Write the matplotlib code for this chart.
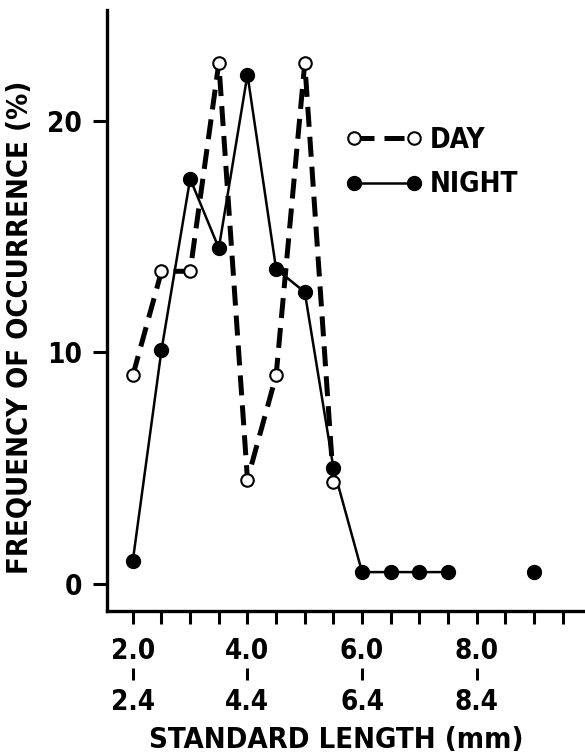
import matplotlib
matplotlib.use("Agg")
import matplotlib.pyplot as plt
import matplotlib.transforms as mtransforms
import numpy as np

plt.rcParams['font.family'] = ['DejaVu Sans']
plt.rcParams['font.weight'] = 'bold'
plt.rcParams['font.stretch'] = 'condensed'
plt.rcParams['axes.labelweight'] = 'bold'

# size classes (mm, lower scale) and percent occurrence
day_x = [2.0, 2.5, 3.0, 3.5, 4.0, 4.5, 5.0, 5.5]
day_y = [9.0, 13.5, 13.5, 22.5, 4.5, 9.0, 22.5, 4.4]

night_x = [2.0, 2.5, 3.0, 3.5, 4.0, 4.5, 5.0, 5.5, 6.0, 6.5, 7.0, 7.5, 8.0, 8.5, 9.0]
night_y = [1.0, 10.1, 17.5, 14.5, 22.0, 13.6, 12.6, 5.0, 0.5, 0.5, 0.5, 0.5, np.nan, np.nan, 0.5]

upper_ticks = [2.0, 4.0, 6.0, 8.0]
upper_labels = ["2.0", "4.0", "6.0", "8.0"]
lower_labels = ["2.4", "4.4", "6.4", "8.4"]
y_ticks = [0, 10, 20]
y_labels = ["0", "10", "20"]

fig = plt.figure(figsize=(5.85, 7.54), dpi=100)
ax = fig.add_axes([0.183, 0.19, 0.817, 0.797])

ax.plot(night_x, night_y, color="black", lw=1.8, marker="o", ms=10,
        mfc="black", mec="black", label="NIGHT", zorder=2)
ax.plot(day_x, day_y, color="black", lw=3.6, dashes=(4, 2.0), marker="o", ms=9,
        mfc="white", mec="black", mew=1.5, label="DAY", zorder=3)

ax.set_xlim(1.55, 9.89)
ax.set_ylim(-1.17, 24.8)

for side in ["top", "right"]:
    ax.spines[side].set_visible(False)
for side in ["left", "bottom"]:
    ax.spines[side].set_linewidth(2.4)

ax.set_yticks(y_ticks)
ax.set_yticklabels(y_labels, fontsize=20)
ax.tick_params(axis="y", direction="out", length=10, width=2.2, pad=8)

ax.set_xticks(upper_ticks)
ax.set_xticklabels([u + "\n" + l for u, l in zip(upper_labels, lower_labels)],
                   fontsize=20, linespacing=2.05)
ax.set_xticks(np.arange(2.0, 9.6, 0.5), minor=True)
ax.tick_params(axis="x", which="both", direction="out", length=9, width=2.2, pad=10)

# small connector marks between the two scales
trans = mtransforms.blended_transform_factory(ax.transData, ax.transAxes)
ax.vlines(upper_ticks, -0.095, -0.115, transform=trans, color="black",
          lw=2.2, clip_on=False)

ax.set_xlabel("STANDARD LENGTH (mm)", fontsize=21, fontweight="bold")
ax.xaxis.set_label_coords(0.48, -0.192)
ax.set_ylabel("FREQUENCY OF OCCURRENCE (%)", fontsize=21, fontweight="bold")
ax.yaxis.set_label_coords(-0.153, 0.472)

handles, labels = ax.get_legend_handles_labels()
ax.legend(handles[::-1], labels[::-1], loc="upper left",
          bbox_to_anchor=(0.5, 0.807), frameon=False, fontsize=20,
          numpoints=2, handlelength=2.75, handletextpad=0.25,
          borderpad=0, borderaxespad=0, labelspacing=0.6)

fig.savefig("out.png", dpi=100)
